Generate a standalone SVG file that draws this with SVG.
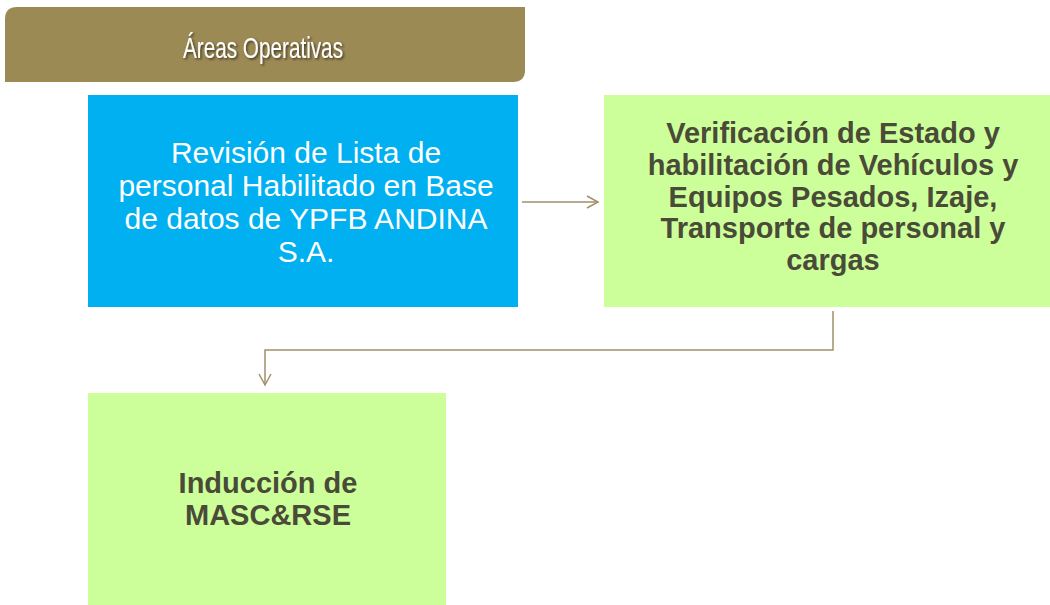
<svg xmlns="http://www.w3.org/2000/svg" width="1050" height="605" viewBox="0 0 1050 605">
<defs>
<style>
.hdr{fill:#9c8a55;}
.blue{fill:#00b0f0;}
.green{fill:#ccff99;}
.t{font-family:"Liberation Sans",Arial,sans-serif;text-anchor:middle;}
.tw{fill:#ffffff;font-size:30px;}
.td{fill:#4a4a38;font-size:29px;font-weight:bold;}
.conn{fill:none;stroke:#a0916a;stroke-width:1.5;}
</style>
<marker id="arr" markerWidth="14" markerHeight="14" refX="12" refY="7" orient="auto" markerUnits="userSpaceOnUse">
<path d="M1,1 L12,7 L1,13" fill="none" stroke="#a0916a" stroke-width="1.5"/>
</marker>
<filter id="sh" x="-10%" y="-30%" width="130%" height="160%">
<feDropShadow dx="1.5" dy="1.5" stdDeviation="1" flood-color="#000" flood-opacity="0.6"/>
</filter>
</defs>
<rect width="1050" height="605" fill="#ffffff"/>
<g id="header">
<path class="hdr" d="M17,7 H525 V70 Q525,82 513,82 H5 V19 Q5,7 17,7 Z"/>
<text class="t" x="263" y="58" fill="#ffffff" font-size="29" textLength="160" lengthAdjust="spacingAndGlyphs" filter="url(#sh)">Áreas Operativas</text>
</g>
<g id="node-revision">
<rect class="blue" x="88" y="95" width="430" height="212"/>
<text class="t tw" x="306" y="163">Revisión de Lista de</text>
<text class="t tw" x="306" y="196">personal Habilitado en Base</text>
<text class="t tw" x="306" y="229">de datos de YPFB ANDINA</text>
<text class="t tw" x="306" y="262">S.A.</text>
</g>
<g id="node-verificacion">
<rect class="green" x="604" y="95" width="446" height="212"/>
<text class="t td" x="833" y="143">Verificación de Estado y</text>
<text class="t td" x="833" y="175">habilitación de Vehículos y</text>
<text class="t td" x="833" y="207">Equipos Pesados, Izaje,</text>
<text class="t td" x="833" y="238">Transporte de personal y</text>
<text class="t td" x="833" y="270">cargas</text>
</g>
<g id="node-induccion">
<rect class="green" x="88" y="393" width="358" height="212"/>
<text class="t td" x="268" y="493">Inducción de</text>
<text class="t td" x="268" y="525">MASC&amp;RSE</text>
</g>
<g id="connectors">
<path class="conn" d="M522,202 H598" marker-end="url(#arr)"/>
<path class="conn" d="M833,311 V350 H265 V385" marker-end="url(#arr)"/>
</g>
</svg>
